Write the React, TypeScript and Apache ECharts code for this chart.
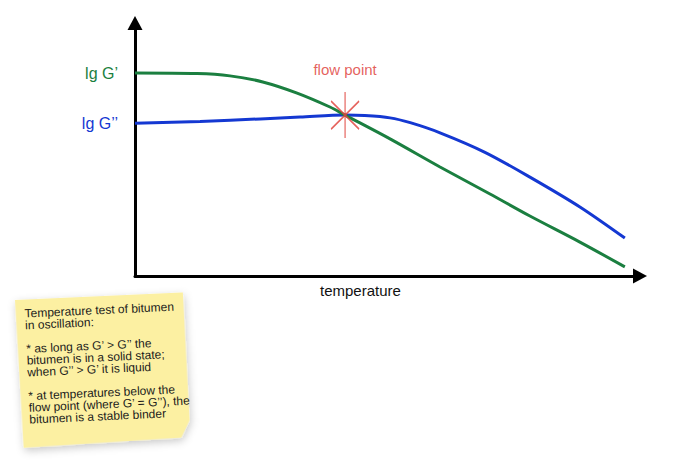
import React, { useEffect, useRef } from 'react';
import * as echarts from 'echarts';

// storage modulus G' (lg) vs temperature, arbitrary units
const gPrimeT = [0, 12.3, 18.8, 25.3, 32.1, 38.6, 41.6, 50.5, 60.4, 70.3, 78.2, 88.1, 97.0];
const gPrimeLg = [80.2, 80.0, 79.1, 76.7, 72.3, 66.8, 63.6, 54.2, 43.1, 32.4, 23.7, 13.4, 3.6];

// loss modulus G'' (lg) vs temperature
const gDoubleT = [0, 12.9, 24.8, 32.7, 41.6, 45.5, 50.5, 54.5, 60.4, 69.3, 78.2, 88.1, 97.0];
const gDoubleLg = [60.4, 61.1, 62.1, 62.8, 63.6, 63.4, 62.5, 60.6, 56.6, 48.9, 39.1, 27.3, 15.0];

const flowPoint = [41.6, 63.6];

const noteLines = [
    'Temperature test of bitumen',
    'in oscillation:',
    '',
    '* as long as G’ > G’’ the',
    'bitumen is in a solid state;',
    'when G’’ > G’ it is liquid',
    '',
    '* at temperatures below the',
    'flow point (where G’ = G’’), the',
    'bitumen is a stable binder',
];

const FONT = '"Liberation Sans", Arial, Helvetica, sans-serif';
const GREEN = '#1b7f40';
const BLUE = '#1438d2';
const RED = '#e0463f';

function toPairs(xs: number[], ys: number[], label: string, color: string) {
    return xs.map((x, i) => {
        const item: any = { value: [x, ys[i]] };
        if (i === 0) {
            item.label = {
                show: true,
                position: 'left',
                distance: 17,
                formatter: label,
                color,
                fontSize: 16,
                fontFamily: FONT,
            };
        }
        return item;
    });
}

export default function App() {
    const chartRef = useRef<HTMLDivElement>(null);

    useEffect(() => {
        const chart = echarts.init(chartRef.current!, null, { renderer: 'svg' });

        const axisLine = {
            show: true,
            symbol: ['none', 'triangle'],
            symbolSize: [15, 14],
            lineStyle: { color: '#000', width: 3 },
        };

        chart.setOption({
            animation: false,
            backgroundColor: '#fff',
            grid: { left: 135, right: 50, top: 23, bottom: 184 },
            xAxis: {
                type: 'value',
                min: 0,
                max: 100,
                axisLine,
                axisTick: { show: false },
                axisLabel: { show: false },
                splitLine: { show: false },
            },
            yAxis: {
                type: 'value',
                min: 0,
                max: 100,
                axisLine,
                axisTick: { show: false },
                axisLabel: { show: false },
                splitLine: { show: false },
            },
            graphic: [
                {
                    type: 'text',
                    left: 320,
                    top: 283,
                    style: {
                        text: 'temperature',
                        fill: '#111',
                        fontSize: 15,
                        fontFamily: FONT,
                    },
                },
                {
                    type: 'group',
                    x: 15,
                    y: 300,
                    rotation: 0.045,
                    children: [
                        {
                            type: 'polygon',
                            shape: {
                                points: [[0, 0], [168, 0], [169, 128], [160, 145], [2, 148]],
                            },
                            style: {
                                fill: '#fcf0a2',
                                shadowBlur: 8,
                                shadowOffsetX: 1,
                                shadowOffsetY: 3,
                                shadowColor: 'rgba(0,0,0,0.22)',
                            },
                        },
                        {
                            type: 'text',
                            x: 9,
                            y: 8,
                            style: {
                                text: noteLines.join('\n'),
                                fill: '#1a1a1a',
                                fontSize: 12,
                                lineHeight: 11.8,
                                fontFamily: FONT,
                            },
                        },
                    ],
                },
            ],
            series: [
                {
                    name: 'lg G’',
                    type: 'line',
                    smooth: 0.3,
                    showSymbol: true,
                    symbolSize: 0,
                    lineStyle: { color: GREEN, width: 3 },
                    itemStyle: { color: GREEN },
                    data: toPairs(gPrimeT, gPrimeLg, 'lg G’', GREEN),
                    z: 3,
                },
                {
                    name: 'lg G’’',
                    type: 'line',
                    smooth: 0.3,
                    showSymbol: true,
                    symbolSize: 0,
                    lineStyle: { color: BLUE, width: 3 },
                    itemStyle: { color: BLUE },
                    data: toPairs(gDoubleT, gDoubleLg, 'lg G’’', BLUE),
                    z: 2,
                },
                {
                    name: 'flow point',
                    type: 'scatter',
                    symbol: 'path://M14 0 L14 46 M0 9 L28 37 M28 9 L0 37',
                    symbolSize: [28, 46],
                    itemStyle: {
                        color: 'transparent',
                        borderColor: RED,
                        borderWidth: 1.5,
                        opacity: 0.85,
                    },
                    label: {
                        show: true,
                        position: 'top',
                        distance: 14,
                        formatter: 'flow point',
                        color: RED,
                        fontSize: 15,
                        fontFamily: FONT,
                    },
                    data: [flowPoint],
                    z: 4,
                },
            ],
        });

        return () => {
            chart.dispose();
        };
    }, []);

    return (
        <div
            ref={chartRef}
            style={{ position: 'fixed', left: 0, top: 0, width: 690, height: 460 }}
        />
    );
}
